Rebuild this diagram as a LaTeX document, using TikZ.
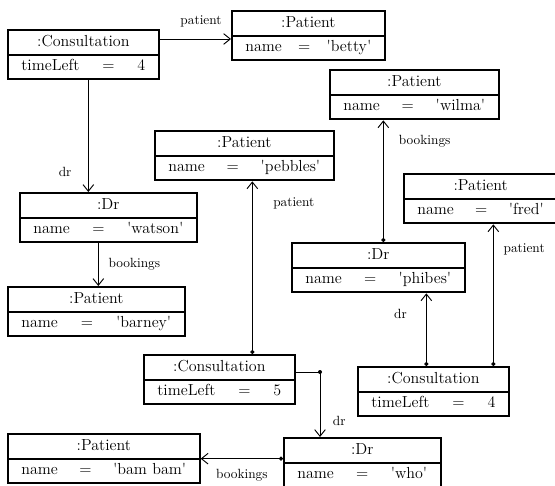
\documentclass[tikz,border=0pt]{standalone}
\usetikzlibrary{shapes.multipart,arrows.meta}
\newcommand{\objfont}{\fontsize{12}{14}\selectfont}
\newcommand{\attr}[2]{\objfont\strut#1\hskip0pt plus1filll=\hskip0pt plus1filll#2}
\newcommand{\quoted}[1]{\textquotesingle#1\textquotesingle}

\begin{document}
\begin{tikzpicture}[x=0.75pt, y=-0.75pt, line width=0.7pt,
  obj/.style={rectangle split, rectangle split parts=2, draw, line width=1.5pt, anchor=north west, inner xsep=10pt, inner ysep=1.5pt, align=center, font=\objfont, execute at begin node=\strut},
  link/.style={-{Straight Barb[length=5pt,width=8pt]}},
  dotlink/.style={{Circle[length=3pt]}-{Straight Barb[length=5pt,width=8pt]}}]
  \useasboundingbox (0,0) rectangle (555,485);
  % objects
  \node[obj, text width=93pt] (C1) at (7,29) {:Consultation \nodepart{two} \attr{timeLeft}{4}};
  \node[obj, text width=94.5pt] (P1) at (231,10) {:Patient \nodepart{two} \attr{name}{\quoted{betty}}};
  \node[obj, text width=106.5pt] (P5) at (329,69) {:Patient \nodepart{two} \attr{name}{\quoted{wilma}}};
  \node[obj, text width=114pt] (P3) at (154,130) {:Patient \nodepart{two} \attr{name}{\quoted{pebbles}}};
  \node[obj, text width=95pt] (P6) at (403,173) {:Patient \nodepart{two} \attr{name}{\quoted{fred}}};
  \node[obj, text width=112.5pt] (D1) at (19,192) {:Dr \nodepart{two} \attr{name}{\quoted{watson}}};
  \node[obj, text width=109.5pt] (D2) at (291,242) {:Dr \nodepart{two} \attr{name}{\quoted{phibes}}};
  \node[obj, text width=112.5pt] (P2) at (7,286) {:Patient \nodepart{two} \attr{name}{\quoted{barney}}};
  \node[obj, text width=93pt] (C2) at (143,354) {:Consultation \nodepart{two} \attr{timeLeft}{5}};
  \node[obj, text width=93pt] (C3) at (357,366) {:Consultation \nodepart{two} \attr{timeLeft}{4}};
  \node[obj, text width=123.75pt] (P4) at (7,433) {:Patient \nodepart{two} \attr{name}{\quoted{bam bam}}};
  \node[obj, text width=97.5pt] (D3) at (283,437) {:Dr \nodepart{two} \attr{name}{\quoted{who}}};
  % links
  \coordinate (c1p) at ([yshift=-7.5pt]C1.north east);
  \draw[link] (c1p) -- (c1p -| P1.west) node[above=5pt, pos=.58] {patient};
  \coordinate (c1d) at ([xshift=3.75pt]C1.south);
  \draw[link] (c1d) -- (c1d |- D1.north) node[left=9pt, pos=.82] {dr};
  \coordinate (d1d) at ([xshift=-7.5pt]D1.south);
  \draw[link] (d1d) -- (d1d |- P2.north) node[right=4pt, midway] {bookings};
  \coordinate (c2u) at ([xshift=24.75pt]C2.north);
  \draw[dotlink] (c2u) -- (c2u |- P3.south) node[right=12pt, pos=.875] {patient};
  \coordinate (c2r) at ([yshift=-13.5pt]C2.north east);
  \coordinate (d3u) at ([xshift=27.75pt]D3.north west);
  \draw[link] (c2r) -- (c2r -| d3u) -- (d3u) node[right=6pt, pos=.75] {dr};
  \fill (c2r -| d3u) circle (1.5pt);
  \draw[dotlink] (P4.east -| D3.west) -- (P4.east) node[below=4pt, midway] {bookings};
  \coordinate (d2u) at ([xshift=3.75pt]D2.north);
  \draw[dotlink] (d2u) -- (d2u |- P5.south) node[right=8pt, pos=.83] {bookings};
  \coordinate (c3a) at ([xshift=-5.25pt]C3.north);
  \draw[dotlink] (c3a) -- (c3a |- D2.south) node[left=11pt, pos=.71] {dr};
  \coordinate (c3b) at ([xshift=45pt]C3.north);
  \draw[dotlink] (c3b) -- (c3b |- P6.south) node[right=4pt, pos=.82] {patient};
\end{tikzpicture}
\end{document}
